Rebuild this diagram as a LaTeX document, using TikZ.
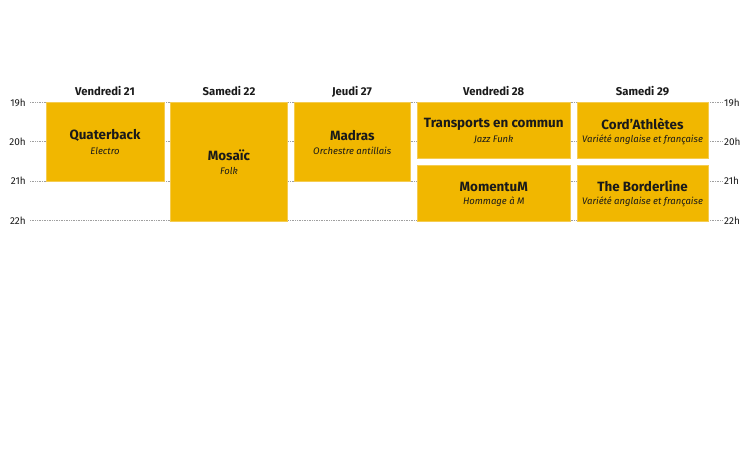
\documentclass[tikz,border=0pt]{standalone}
\usepackage{fontspec}
\setmainfont{Fira Sans}
\definecolor{boxfill}{RGB}{241,183,0}
\definecolor{boxedge}{RGB}{245,204,80}
\definecolor{ink}{RGB}{26,26,26}
\definecolor{gridc}{RGB}{160,160,160}
\tikzset{
  gridline/.style={draw=gridc,line width=0.8pt,dash pattern=on 0.8pt off 0.9pt},
  hourl/.style={font=\fontsize{10}{10}\selectfont,text=ink,inner sep=0pt},
  dayl/.style={font=\fontsize{11.3}{12}\selectfont\bfseries,text=ink,inner sep=0pt},
  eventbox/.style={fill=boxfill,draw=boxedge,line width=0.7pt},
  ttl/.style={font=\fontsize{13.4}{14}\selectfont\bfseries,text=ink,inner sep=0pt},
  sub/.style={font=\fontsize{9.5}{11}\selectfont\itshape,text=ink,inner sep=0pt},
}
\begin{document}
\begin{tikzpicture}[x=1pt,y=-1pt]
\useasboundingbox[fill=white] (0,0) rectangle (750,450);
% grid lines
\foreach \h/\y in {19/102.5,20/141.8,21/181.2,22/220.5}{
  \coordinate (gl\h) at (30,\y);
  \coordinate (gr\h) at (722,\y);
  \draw[gridline] (gl\h) -- (gr\h);
  \node[hourl,anchor=east] (hl\h) at (26,\y) {\h h};
  \node[hourl,anchor=west] (hr\h) at (724,\y) {\h h};
}
% boxes
\path[eventbox] (46,102.5) rectangle (164,181.2) coordinate[pos=0.5] (cQ);
\path[eventbox] (170.5,102.5) rectangle (287.5,221) coordinate[pos=0.5] (cMo);
\path[eventbox] (294,102.5) rectangle (410.5,181.2) coordinate[pos=0.5] (cMa);
\path[eventbox] (417,102.5) rectangle (570.5,158.5) coordinate[pos=0.5] (cT);
\path[eventbox] (417,165) rectangle (570.5,221) coordinate[pos=0.5] (cMm);
\path[eventbox] (577,102.5) rectangle (708,158.5) coordinate[pos=0.5] (cC);
\path[eventbox] (577,165) rectangle (708,221) coordinate[pos=0.5] (cB);
% headers
\node[dayl] (d1) at (105,91) {Vendredi 21};
\node[dayl] (d2) at (229,91) {Samedi 22};
\node[dayl] (d3) at (352,91.5) {Jeudi 27};
\node[dayl] (d4) at (493.7,91) {Vendredi 28};
\node[dayl] (d5) at (642.5,91) {Samedi 29};
% texts
\foreach \c/\t/\s in {cQ/Quaterback/Electro, cMo/Mosaïc/Folk, cMa/Madras/Orchestre antillais, cT/Transports en commun/Jazz Funk, cMm/MomentuM/Hommage à M, cC/Cord'Athlètes/Variété anglaise et française, cB/The Borderline/Variété anglaise et française}{
  \node[ttl] (t\c) at ([yshift=6.5pt]\c) {\t};
  \node[sub] (s\c) at ([yshift=-9pt]\c) {\s};
}
\end{tikzpicture}
\end{document}
